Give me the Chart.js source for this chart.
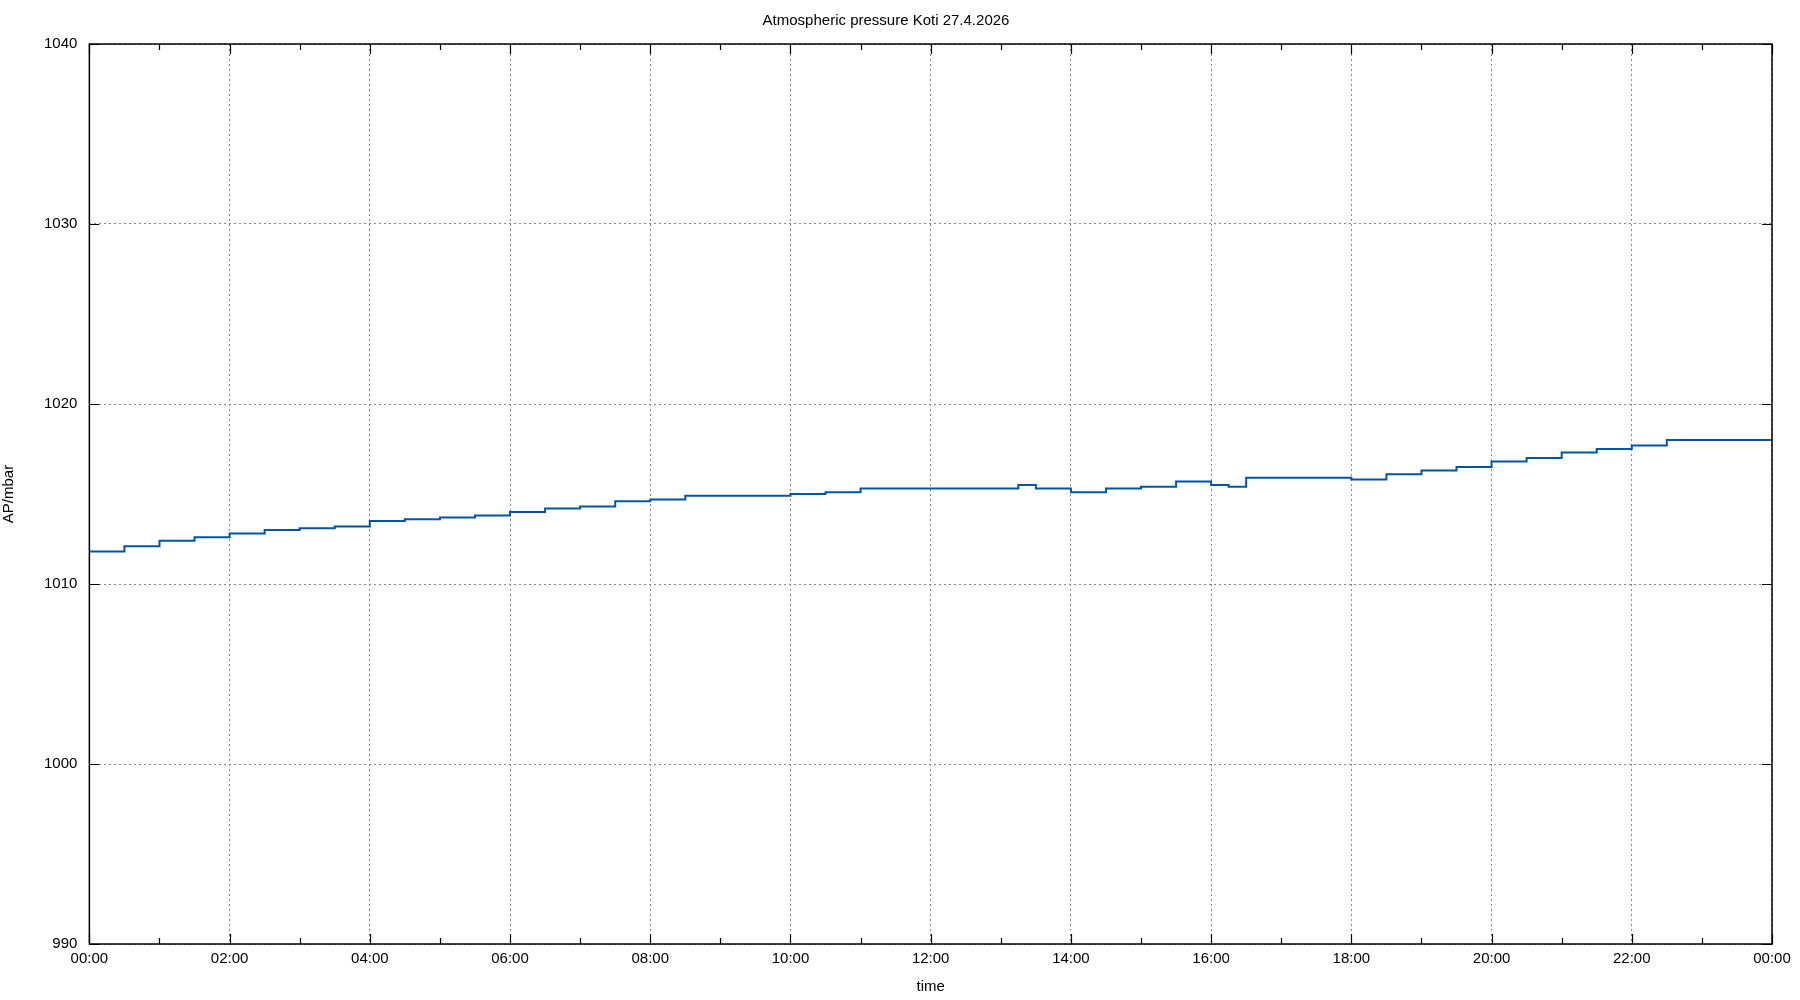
<!DOCTYPE html>
<html><head><meta charset="utf-8">
<script src="https://cdn.jsdelivr.net/npm/chart.js@4"></script>
<style>html,body{margin:0;background:#fff}#w{width:1800px;height:1000px}</style>
</head><body><div id="w"><canvas id="c"></canvas></div>
<script>
const timesMin = [0,30,60,90,120,150,180,210,240,270,300,330,360,390,420,450,480,510,540,570,600,630,660,690,720,750,780,795,810,840,870,900,930,960,975,990,1020,1050,1080,1110,1140,1170,1200,1230,1260,1290,1320,1350,1380,1410,1440];
const pressure = [1011.8,1012.1,1012.4,1012.6,1012.8,1013.0,1013.1,1013.2,1013.5,1013.6,1013.7,1013.8,1014.0,1014.2,1014.3,1014.6,1014.7,1014.9,1014.9,1014.9,1015.0,1015.1,1015.3,1015.3,1015.3,1015.3,1015.3,1015.5,1015.3,1015.1,1015.3,1015.4,1015.7,1015.5,1015.4,1015.9,1015.9,1015.9,1015.8,1016.1,1016.3,1016.5,1016.8,1017.0,1017.3,1017.5,1017.7,1018.0,1018.0,1018.0,1018.1];
const yTicks = [990,1000,1010,1020,1030,1040];
const fmt = v => String(Math.floor(v/60)%24).padStart(2,'0')+':00';
const F = {family:'Liberation Sans, Arial, sans-serif', size:15, weight:'normal'};
const inTicks = {id:'inTicks', afterDraw(ch){
  const {ctx,chartArea:a,scales:{x,y}} = ch;
  ctx.save(); ctx.strokeStyle='#000'; ctx.lineWidth=1.2;
  for(let m=0;m<=1440;m+=60){const p=Math.round(x.getPixelForValue(m))+0.5;const L=m%120?6:10;
    ctx.beginPath();ctx.moveTo(p,a.bottom);ctx.lineTo(p,a.bottom-L);ctx.moveTo(p,a.top);ctx.lineTo(p,a.top+L);ctx.stroke();}
  for(const v of yTicks){const p=Math.round(y.getPixelForValue(v))+0.5;
    ctx.beginPath();ctx.moveTo(a.left,p);ctx.lineTo(a.left+10,p);ctx.moveTo(a.right,p);ctx.lineTo(a.right-10,p);ctx.stroke();}
  ctx.lineWidth=1.5;ctx.strokeRect(a.left,a.top,a.right-a.left,a.bottom-a.top);
  ctx.restore();}};
new Chart(document.getElementById('c'),{type:'line',
 data:{datasets:[{data:timesMin.map((t,i)=>({x:t,y:pressure[i]})),stepped:true,borderColor:'#0055a5',borderWidth:2,pointRadius:0}]},
 options:{responsive:true,maintainAspectRatio:false,animation:false,
  layout:{padding:{left:0,right:28,top:0,bottom:0}},
  plugins:{legend:{display:false},tooltip:{enabled:false},
   title:{display:true,text:'Atmospheric pressure Koti 27.4.2026',color:'#000',font:F,padding:{top:12,bottom:14}}},
  scales:{
   x:{type:'linear',min:0,max:1440,border:{display:false,dash:[2,3]},
    afterBuildTicks:s=>{s.ticks=[];for(let m=0;m<=1440;m+=120)s.ticks.push({value:m});},
    ticks:{callback:fmt,color:'#000',font:F,maxRotation:0,padding:6},
    grid:{color:'#888',tickLength:0,lineWidth:1},
    title:{display:true,text:'time',color:'#000',font:F,padding:{top:4,bottom:4}}},
   y:{min:990,max:1040,border:{display:false,dash:[2,3]},
    afterBuildTicks:s=>{s.ticks=yTicks.map(v=>({value:v}));},
    ticks:{color:'#000',font:F,padding:12,callback:v=>String(v)},
    grid:{color:'#888',tickLength:0,lineWidth:1},
    title:{display:true,text:'AP/mbar',color:'#000',font:F,padding:{top:0,bottom:14}}}
  }},
 plugins:[inTicks]
});
</script></body></html>
